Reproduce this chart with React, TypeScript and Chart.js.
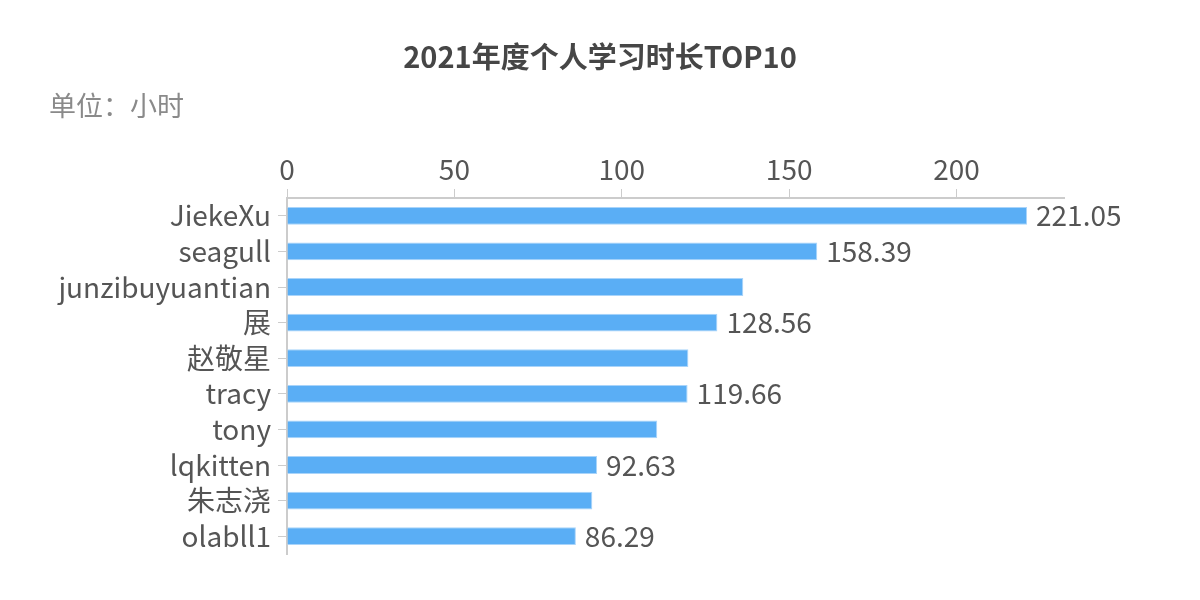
import React, { useEffect, useRef } from "react";
import { Chart, registerables } from "chart.js";

Chart.register(...registerables);

const names = ["JiekeXu", "seagull", "junzibuyuantian", "展", "赵敬星", "tracy", "tony", "lqkitten", "朱志浇", "olabll1"];
const hours = [221.05, 158.39, 136.3, 128.56, 119.9, 119.66, 110.6, 92.63, 91.2, 86.29];
const showValue = [true, true, false, true, false, true, false, true, false, true];
const titleText = "2021年度个人学习时长TOP10";
const unitText = "单位：小时";
const axisMax = 232.1;

const FONT = "'Noto Sans CJK SC', 'Noto Sans', sans-serif";

export default function App() {
  const ref = useRef<HTMLCanvasElement | null>(null);
  useEffect(() => {
    document.body.style.margin = "0";
    const canvas = ref.current!;
    const textPlugin = {
      id: "texts",
      afterDraw(chart: any) {
        const ctx = chart.ctx;
        ctx.save();
        ctx.fillStyle = "#464646";
        ctx.font = `bold 29px ${FONT}`;
        ctx.textAlign = "center";
        ctx.textBaseline = "middle";
        ctx.fillText(titleText, 600, 57);
        ctx.fillStyle = "#8a8a8a";
        ctx.font = `27px ${FONT}`;
        ctx.textAlign = "left";
        ctx.fillText(unitText, 49, 106);
        ctx.restore();
      },
      afterDatasetsDraw(chart: any) {
        const ctx = chart.ctx;
        const meta = chart.getDatasetMeta(0);
        ctx.save();
        ctx.fillStyle = "#555555";
        ctx.font = `28px ${FONT}`;
        ctx.textAlign = "left";
        ctx.textBaseline = "middle";
        meta.data.forEach((el: any, i: number) => {
          if (!showValue[i]) return;
          ctx.fillText(String(hours[i]), el.x + 9, el.y);
        });
        ctx.restore();
      },
    };
    const chart = new Chart(canvas, {
      type: "bar",
      data: {
        labels: names,
        datasets: [
          {
            data: hours,
            backgroundColor: "#5AAEF5",
            borderColor: "#A9D4FA",
            borderWidth: 1,
            barPercentage: 0.5,
            categoryPercentage: 1,
          },
        ],
      },
      options: {
        indexAxis: "y",
        responsive: false,
        animation: false,
        layout: { padding: { left: 0, right: 136, top: 0, bottom: 46 } },
        plugins: { legend: { display: false }, tooltip: { enabled: false } },
        scales: {
          x: {
            position: "top",
            min: 0,
            max: axisMax,
            afterFit(scale: any) {
              scale.height = 198;
            },
            ticks: {
              stepSize: 50,
              includeBounds: false,
              color: "#555555",
              padding: 3,
              font: { family: FONT, size: 28 },
            },
            grid: { drawOnChartArea: false, tickLength: 9, color: "#cccccc" },
            border: { display: true, color: "#cccccc", width: 2 },
          },
          y: {
            afterFit(scale: any) {
              scale.width = 287;
            },
            ticks: {
              autoSkip: false,
              color: "#555555",
              padding: 7,
              font: { family: FONT, size: 28 },
            },
            grid: { drawOnChartArea: false, tickLength: 9, color: "#cccccc", offset: false },
            border: { display: true, color: "#cccccc", width: 2 },
          },
        },
      },
      plugins: [textPlugin],
    } as any);
    return () => chart.destroy();
  }, []);
  return (
    <div style={{ width: 1200, height: 600 }}>
      <canvas ref={ref} width={1200} height={600} />
    </div>
  );
}
